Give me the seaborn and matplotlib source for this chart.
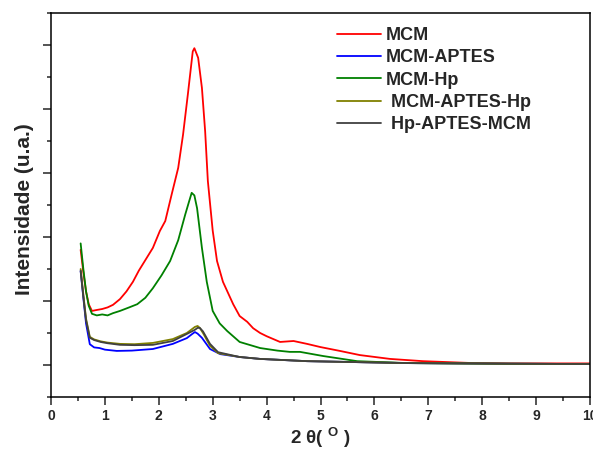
import numpy as np
import pandas as pd
import matplotlib
matplotlib.use("Agg")
import matplotlib.pyplot as plt
import seaborn as sns
from matplotlib.ticker import MultipleLocator

# ---- data (2θ in degrees, intensity in arbitrary units) ----
mcm_x = [0.55, 0.60, 0.65, 0.70, 0.76, 0.85, 0.95, 1.05, 1.15, 1.28, 1.40, 1.52, 1.63, 1.74,
         1.89, 2.02, 2.12, 2.24, 2.36, 2.45, 2.54, 2.63, 2.66, 2.73, 2.80, 2.86, 2.91, 3.00,
         3.08, 3.19, 3.38, 3.50, 3.64, 3.75, 3.88, 4.00, 4.25, 4.50, 4.75, 5.00, 5.36, 5.73,
         6.29, 6.90, 7.83, 8.50, 9.20, 10.0]
mcm_y = [4.60, 3.90, 3.30, 2.90, 2.69, 2.72, 2.75, 2.80, 2.88, 3.06, 3.30, 3.60, 3.95, 4.25,
         4.66, 5.19, 5.50, 6.34, 7.16, 8.20, 9.47, 10.80, 10.90, 10.60, 9.66, 8.30, 6.75, 5.20,
         4.25, 3.60, 2.90, 2.53, 2.35, 2.15, 2.00, 1.90, 1.72, 1.75, 1.66, 1.56, 1.44, 1.31,
         1.19, 1.12, 1.06, 1.05, 1.05, 1.05]

hp_x = [0.55, 0.60, 0.65, 0.70, 0.76, 0.85, 0.95, 1.05, 1.15, 1.28, 1.45, 1.60, 1.75, 1.89,
        2.05, 2.21, 2.36, 2.49, 2.56, 2.61, 2.66, 2.71, 2.80, 2.89, 3.00, 3.13, 3.27, 3.50,
        3.88, 4.20, 4.43, 4.62, 5.05, 5.68, 6.60, 7.50, 8.50, 10.0]
hp_y = [4.80, 4.00, 3.30, 2.85, 2.60, 2.55, 2.58, 2.55, 2.62, 2.69, 2.80, 2.90, 3.10, 3.40,
        3.80, 4.25, 4.90, 5.70, 6.10, 6.38, 6.30, 5.90, 4.66, 3.60, 2.69, 2.30, 2.06, 1.72,
        1.53, 1.45, 1.41, 1.41, 1.28, 1.12, 1.06, 1.05, 1.04, 1.03]

aptes_x = [0.55, 0.60, 0.65, 0.72, 0.80, 0.90, 1.00, 1.22, 1.50, 1.89, 2.26, 2.52, 2.62, 2.67,
           2.72, 2.80, 2.95, 3.14, 3.50, 3.88, 4.75, 6.60, 8.50, 10.0]
aptes_y = [3.94, 3.10, 2.30, 1.65, 1.55, 1.53, 1.48, 1.44, 1.45, 1.50, 1.66, 1.84, 1.97, 2.03,
           1.98, 1.85, 1.50, 1.34, 1.25, 1.19, 1.12, 1.06, 1.04, 1.03]

aptes_hp_x = [0.55, 0.60, 0.65, 0.72, 0.80, 0.92, 1.05, 1.28, 1.55, 1.89, 2.26, 2.52, 2.67, 2.72,
              2.76, 2.82, 2.95, 3.10, 3.50, 3.88, 4.75, 6.60, 8.50, 10.0]
aptes_hp_y = [4.00, 3.20, 2.45, 1.88, 1.80, 1.74, 1.70, 1.66, 1.65, 1.69, 1.81, 2.00, 2.19, 2.22,
              2.16, 2.00, 1.60, 1.37, 1.25, 1.19, 1.12, 1.06, 1.04, 1.03]

hp_aptes_mcm_x = [0.55, 0.60, 0.65, 0.72, 0.80, 0.92, 1.05, 1.28, 1.55, 1.89, 2.26, 2.52, 2.67, 2.72,
                  2.76, 2.82, 2.95, 3.10, 3.50, 3.88, 4.75, 6.60, 8.50, 10.0]
hp_aptes_mcm_y = [3.94, 3.15, 2.40, 1.85, 1.78, 1.72, 1.68, 1.63, 1.62, 1.63, 1.75, 1.97, 2.10, 2.16,
                  2.16, 2.05, 1.66, 1.40, 1.25, 1.19, 1.12, 1.06, 1.04, 1.03]

labels = ["MCM", "MCM-APTES", "MCM-Hp", " MCM-APTES-Hp", " Hp-APTES-MCM"]
colors = ["#FF0000", "#0000FF", "#008000", "#808000", "#404040"]
xs = [mcm_x, aptes_x, hp_x, aptes_hp_x, hp_aptes_mcm_x]
ys = [mcm_y, aptes_y, hp_y, aptes_hp_y, hp_aptes_mcm_y]

frames = [pd.DataFrame({"x": x, "y": y, "amostra": lab}) for x, y, lab in zip(xs, ys, labels)]
df = pd.concat(frames, ignore_index=True)

sns.set_theme(style="ticks")
plt.rcParams["font.family"] = ["Liberation Sans", "DejaVu Sans"]
plt.rcParams["font.weight"] = "bold"
plt.rcParams["mathtext.fontset"] = "custom"
plt.rcParams["mathtext.rm"] = "Liberation Sans:bold"
plt.rcParams["mathtext.it"] = "Liberation Sans:bold"
plt.rcParams["mathtext.bf"] = "Liberation Sans:bold"

fig = plt.figure(figsize=(5.93, 4.51), dpi=100)
ax = fig.add_axes([51 / 593, 54 / 451, 539 / 593, 384 / 451])

sns.lineplot(data=df, x="x", y="y", hue="amostra", hue_order=labels,
             palette=dict(zip(labels, colors)), linewidth=1.3, ax=ax,
             estimator=None, sort=False)

ax.set_xlim(0, 10)
ax.set_ylim(0, 12)
ax.xaxis.set_major_locator(MultipleLocator(1))
ax.xaxis.set_minor_locator(MultipleLocator(0.5))
ax.set_yticks([1, 3, 5, 7, 9, 11])
ax.set_yticks([0, 2, 4, 6, 8, 10, 12], minor=True)
ax.set_yticklabels([])
ax.tick_params(axis="both", which="major", direction="out", length=6, width=1.1,
               labelsize=10, pad=3, top=False, right=False)
ax.tick_params(axis="both", which="minor", direction="out", length=3, width=1.1,
               top=False, right=False)
for lab in ax.get_xticklabels():
    lab.set_fontweight("bold")
for sp in ax.spines.values():
    sp.set_linewidth(1.1)
    sp.set_color("black")

ax.set_xlabel(r"2 θ( $^{\mathrm{O}}$ )", fontsize=13.5, fontweight="bold", labelpad=2)
ax.set_ylabel("Intensidade (u.a.)", fontsize=15, fontweight="bold")
ax.yaxis.set_label_coords(-0.032, 0.49)

leg = ax.legend(loc="upper left", bbox_to_anchor=(0.531, 0.964), frameon=False,
                handlelength=2.4, handletextpad=0.3, labelspacing=0.3,
                borderpad=0, borderaxespad=0, prop={"weight": "bold", "size": 13})

fig.savefig("out.png", dpi=100)
